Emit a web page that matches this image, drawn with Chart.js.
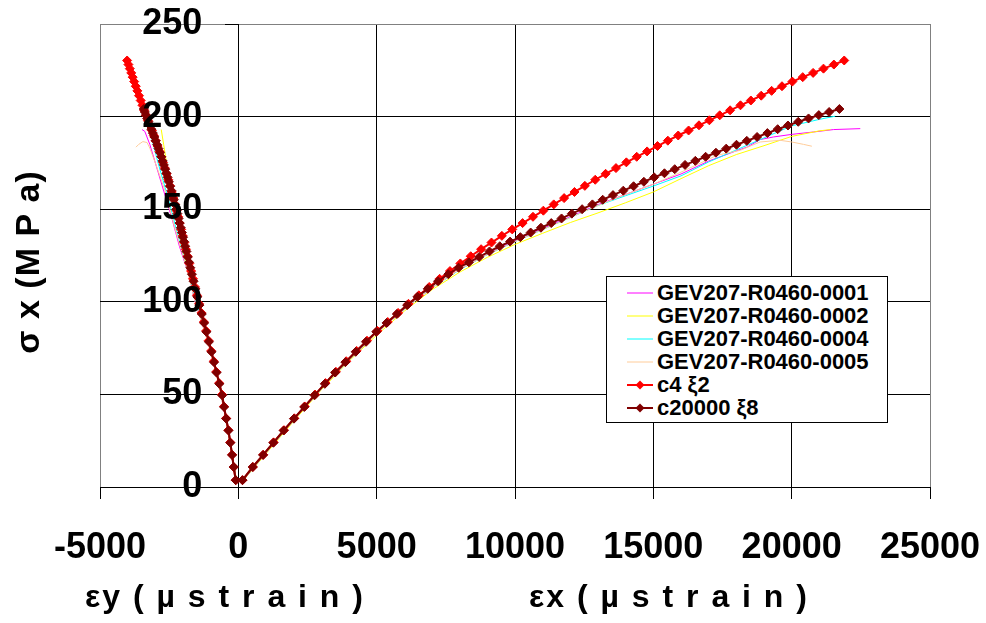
<!DOCTYPE html>
<html>
<head>
<meta charset="utf-8">
<script src="https://cdn.jsdelivr.net/npm/chart.js@4.4.0/dist/chart.umd.min.js"></script>
<style>
  html, body { margin: 0; padding: 0; background: #fff; }
  #wrap { position: relative; width: 986px; height: 623px; overflow: hidden; }
  #main-chart { position: absolute; left: 0; top: 0; }
  #chart-legend {
    position: absolute; left: 606px; top: 276px; width: 282px; height: 147px;
    box-sizing: border-box; border: 1px solid #000; background: #fff; padding-top: 4px;
    font: bold 22px "Liberation Sans", Arial, sans-serif; color: #000;
  }
  .legend-item { display: flex; align-items: center; height: 23px; white-space: nowrap; }
  .legend-color { width: 26px; height: 10px; margin-left: 20px; margin-right: 4px; flex: none; }
</style>
</head>
<body>
<div id="wrap">
  <canvas id="main-chart" width="986" height="623"></canvas>
  <div id="chart-legend"></div>
</div>
<script>
// axis ticks
const xTickValues = [-5000, 0, 5000, 10000, 15000, 20000, 25000];
const yTickValues = [0, 50, 100, 150, 200, 250];

const yTitle      = 'σ x (M P a)';
const xTitleLeft  = 'εy ( µ s t r a i n )';
const xTitleRight = 'εx ( µ s t r a i n )';

// measured curves: path runs down the εy branch, then up the εx branch
const gev0001Strain = [-3480, -3380, -3200, -2900, -2600, -2400, -2130, -1800, -1560, -1130, -760, -500, -250, -90,
  150, 1000, 2000, 3000, 4000, 5000, 6000, 7000, 8000, 9000, 10000, 11000, 12000, 13000, 14000, 15000, 16000, 17000, 18000,
  18400, 18860, 19340, 20000, 20790, 21510, 22480];
const gev0001Stress = [193, 192, 185, 170, 155, 145, 130, 115, 100, 80, 60, 40, 20, 5,
  3, 18.5, 36, 53, 68.5, 83, 96, 107.5, 117.5, 125.8, 133, 139.5, 146, 152.5, 158, 163.5, 169, 176, 181.5,
  183.6, 187.6, 189, 190.4, 191.7, 193, 193.5];

const gev0002Strain = [-2786, -2700, -2605, -2500, -2424, -2300, -2030, -1500, -1110, -760, -490, -250, -80,
  150, 1000, 2000, 3000, 4000, 5000, 6000, 7000, 8000, 9000, 10000, 11000, 12000, 13000, 14000, 15000, 16000, 17000, 18000,
  19000, 20000, 21000, 21400];
const gev0002Stress = [193, 185, 176, 167, 161, 150, 130, 100, 80, 60, 40, 20, 5,
  3, 18, 35.5, 52.5, 68, 82, 95, 106.5, 116, 124, 131, 137, 142.8, 148, 153.5, 159.3, 166.5, 173.5, 179.5,
  184.3, 189.3, 192.3, 193];

const gev0004Strain = [-3180, -2900, -2520, -2080, -1520, -1120, -760, -490, -250, -85,
  150, 1000, 2000, 3000, 4000, 5000, 6000, 7000, 8000, 9000, 10000, 11000, 12000, 13000, 14000, 15000, 16000, 17000, 18000,
  19000, 20000, 21000, 21570];
const gev0004Stress = [191, 175, 155, 130, 100, 80, 60, 40, 20, 5,
  3, 18.5, 36, 53, 68.5, 83, 96, 107.5, 117.3, 125.5, 132.5, 139, 145.5, 152, 157.3, 162.5, 168, 175.5, 182,
  188.5, 195, 198.5, 200.2];

const gev0005Strain = [-3700, -3600, -3450, -3300, -3200, -3000, -2650, -2300, -1900, -1560, -1140, -780, -500, -255, -90,
  150, 1000, 2000, 3000, 4000, 5000, 6000, 7000, 8000, 9000, 10000, 11000, 12000, 13000, 14000, 15000, 16000,
  17300, 18140, 18860, 19580, 20000, 20430, 20730];
const gev0005Stress = [183.5, 185, 186.5, 186, 183, 175, 160, 140, 120, 100, 80, 60, 40, 20, 5,
  3, 18.5, 36, 53, 68.5, 83, 96, 107.5, 117.5, 125.5, 132.5, 139, 145.5, 152, 158, 163.5, 170,
  179.1, 181.8, 186.3, 187.2, 186.3, 185, 184];

// model c4 xi2: one stress per step, with matching εx and εy
const c4StrainX = [150, 525, 900, 1275, 1650, 2025, 2400, 2775, 3150, 3525, 3900, 4275, 4650, 5025, 5400, 5775, 6150,
  6525, 6900, 7275, 7650, 8025, 8400, 8775, 9150, 9525, 9900, 10275, 10650, 11025, 11400, 11775, 12150, 12525, 12900,
  13275, 13650, 14025, 14400, 14775, 15150, 15525, 15900, 16275, 16650, 17025, 17400, 17775, 18150, 18525, 18900,
  19275, 19650, 20025, 20400, 20775, 21150, 21525, 21900];
const c4StrainY = [-95, -167, -227, -291, -359, -442, -519, -589, -694, -795, -886, -980, -1073, -1163, -1245, -1332,
  -1420, -1496, -1568, -1638, -1706, -1771, -1834, -1894, -1952, -2010, -2066, -2120, -2174, -2227, -2287, -2348,
  -2407, -2469, -2532, -2593, -2656, -2721, -2784, -2849, -2918, -2988, -3055, -3125, -3198, -3268, -3337, -3402,
  -3466, -3529, -3590, -3650, -3707, -3765, -3819, -3871, -3923, -3973, -4020];
const c4Stress = [3.7, 10.8, 17.4, 24.1, 30.7, 37.1, 43.5, 49.9, 56.1, 62.2, 67.9, 73.5, 79.0, 84.3, 89.1, 94.0, 98.9,
  103.5, 108.0, 112.4, 116.6, 120.7, 124.6, 128.4, 132.0, 135.6, 139.1, 142.5, 145.9, 149.2, 152.6, 156.0, 159.3,
  162.6, 165.9, 169.1, 172.2, 175.3, 178.3, 181.2, 184.1, 187.0, 189.8, 192.5, 195.3, 198.0, 200.7, 203.4, 206.1,
  208.7, 211.3, 213.9, 216.4, 218.9, 221.3, 223.6, 225.9, 228.1, 230.3];

// model c20000 xi8
const c20000StrainX = [150, 522, 894, 1266, 1638, 2010, 2382, 2754, 3126, 3498, 3870, 4242, 4614, 4986, 5358, 5730,
  6102, 6474, 6846, 7218, 7590, 7962, 8334, 8706, 9078, 9450, 9822, 10194, 10566, 10938, 11310, 11682, 12054, 12426,
  12798, 13170, 13542, 13914, 14286, 14658, 15030, 15402, 15774, 16146, 16518, 16890, 17262, 17634, 18006, 18378,
  18750, 19122, 19494, 19866, 20238, 20610, 20982, 21354, 21726];
const c20000StrainY = [-95, -167, -226, -289, -357, -440, -515, -585, -687, -789, -878, -971, -1063, -1155, -1236,
  -1321, -1408, -1483, -1552, -1618, -1678, -1734, -1781, -1827, -1875, -1920, -1960, -1998, -2038, -2080, -2120,
  -2160, -2202, -2240, -2287, -2332, -2377, -2420, -2466, -2511, -2557, -2599, -2644, -2692, -2738, -2784, -2832,
  -2885, -2935, -2986, -3036, -3089, -3143, -3195, -3247, -3294, -3339, -3380, -3418];
const c20000Stress = [3.7, 10.8, 17.3, 23.9, 30.5, 36.9, 43.2, 49.5, 55.7, 61.8, 67.4, 73.0, 78.4, 83.8, 88.6, 93.4,
  98.2, 102.7, 107.0, 111.1, 114.9, 118.4, 121.3, 124.2, 127.2, 130.0, 132.5, 134.9, 137.4, 140.0, 142.5, 145.0,
  147.6, 150.0, 152.6, 155.1, 157.6, 160.0, 162.4, 164.8, 167.2, 169.4, 171.6, 173.9, 176.1, 178.3, 180.5, 182.7,
  184.8, 186.9, 189.0, 191.1, 193.2, 195.2, 197.2, 199.0, 200.8, 202.5, 204.1];

const FONT = '"Liberation Sans", Arial, sans-serif';

function toPoints(xs, ys) {
  return xs.map((x, i) => ({ x, y: ys[i] }));
}

// εy branch from the top down, then εx branch upwards
function modelPoints(ex, ey, s) {
  const left = ey.map((x, i) => ({ x, y: s[i] })).reverse();
  return left.concat(ex.map((x, i) => ({ x, y: s[i] })));
}

function measured(label, color, xs, ys, order) {
  return {
    label, data: toPoints(xs, ys), order,
    showLine: true, borderColor: color, backgroundColor: color,
    borderWidth: 1, pointRadius: 0, tension: 0, _marker: false,
  };
}

function model(label, color, ex, ey, s, order) {
  return {
    label, data: modelPoints(ex, ey, s), order,
    showLine: true, borderColor: color, backgroundColor: color,
    borderWidth: 2, pointStyle: 'rectRot', pointRadius: 4.5, pointBorderWidth: 1,
    pointBackgroundColor: color, pointBorderColor: color, tension: 0, _marker: true,
  };
}

const datasets = [
  measured('GEV207-R0460-0001', '#FF00FF', gev0001Strain, gev0001Stress, 5),
  measured('GEV207-R0460-0002', '#FFFF00', gev0002Strain, gev0002Stress, 4),
  measured('GEV207-R0460-0004', '#00FFFF', gev0004Strain, gev0004Stress, 3),
  measured('GEV207-R0460-0005', '#FFCC99', gev0005Strain, gev0005Stress, 2),
  model('c4 ξ2', '#FF0000', c4StrainX, c4StrainY, c4Stress, 1),
  model('c20000 ξ8', '#800000', c20000StrainX, c20000StrainY, c20000Stress, 0),
];

// axis titles are split in two under the x axis, so draw them here
const axisTitles = {
  id: 'axisTitles',
  afterDraw(chart) {
    const ctx = chart.ctx;
    ctx.save();
    ctx.fillStyle = '#000';
    ctx.font = 'bold 32px ' + FONT;
    ctx.textAlign = 'center';
    ctx.textBaseline = 'middle';
    ctx.letterSpacing = '2px';
    ctx.fillText(xTitleLeft, 225, 598);
    ctx.fillText(xTitleRight, 669, 598);
    ctx.translate(30, 262);
    ctx.rotate(-Math.PI / 2);
    ctx.font = 'bold 34px ' + FONT;
    ctx.letterSpacing = '1px';
    ctx.fillText(yTitle, 0, 0);
    ctx.restore();
  }
};

const edgeColor = (min, max) => c => {
  const v = c.tick ? c.tick.value : null;
  return (v === min || v === max) ? '#808080' : '#000';
};

const xMin = xTickValues[0], xMax = xTickValues[xTickValues.length - 1];
const yMin = yTickValues[0], yMax = yTickValues[yTickValues.length - 1];

const chart = new Chart(document.getElementById('main-chart').getContext('2d'), {
  type: 'scatter',
  data: { datasets },
  options: {
    responsive: false,
    animation: false,
    layout: { padding: { left: 100, right: 56, top: 24, bottom: 0 } },
    plugins: { legend: { display: false }, tooltip: { enabled: false } },
    scales: {
      x: {
        type: 'linear', min: xMin, max: xMax,
        // fixed band under the plot; label overflow is covered by the layout padding
        afterFit: s => { s.height = 136; s.paddingLeft = 0; s.paddingRight = 0; },
        grid: { color: edgeColor(xMin, xMax), lineWidth: 1, tickLength: 12, tickColor: '#000' },
        border: { color: '#000', width: 1 },
        ticks: {
          stepSize: xTickValues[1] - xTickValues[0], padding: 27, maxRotation: 0, autoSkip: false,
          color: '#000', font: { family: FONT, size: 36, weight: 'bold' },
          callback: v => String(v),
        },
      },
      y: {
        type: 'linear', min: yMin, max: yMax,
        position: { x: 0 },
        afterFit: s => { s.paddingTop = 0; s.paddingBottom = 0; },
        grid: { color: edgeColor(-1, yMax), lineWidth: 1, tickLength: 13, tickColor: '#000' },
        border: { color: '#000', width: 1 },
        ticks: {
          stepSize: yTickValues[1] - yTickValues[0], z: 1,
          color: '#000', font: { family: FONT, size: 36, weight: 'bold' },
          // labels sit right-aligned on the axis here, the en spaces keep the gap to the tick
          callback: v => v + '\u2002\u2002',
        },
      },
    },
  },
  plugins: [axisTitles],
});

function renderLegend() {
  const el = document.getElementById('chart-legend');
  el.innerHTML = '';
  datasets.forEach(ds => {
    const c = ds.borderColor;
    const marker = ds._marker
      ? `<path d="M13 0.5 L17.5 5 L13 9.5 L8.5 5 Z" fill="${c}"/>`
      : '';
    const div = document.createElement('div');
    div.className = 'legend-item';
    div.innerHTML = `<svg class="legend-color" viewBox="0 0 26 10" xmlns="http://www.w3.org/2000/svg">` +
      `<line x1="0" y1="5" x2="26" y2="5" stroke="${c}" stroke-width="${ds.borderWidth}"/>${marker}</svg>` +
      `<span>${ds.label}</span>`;
    el.appendChild(div);
  });
}
renderLegend();
</script>
</body>
</html>
